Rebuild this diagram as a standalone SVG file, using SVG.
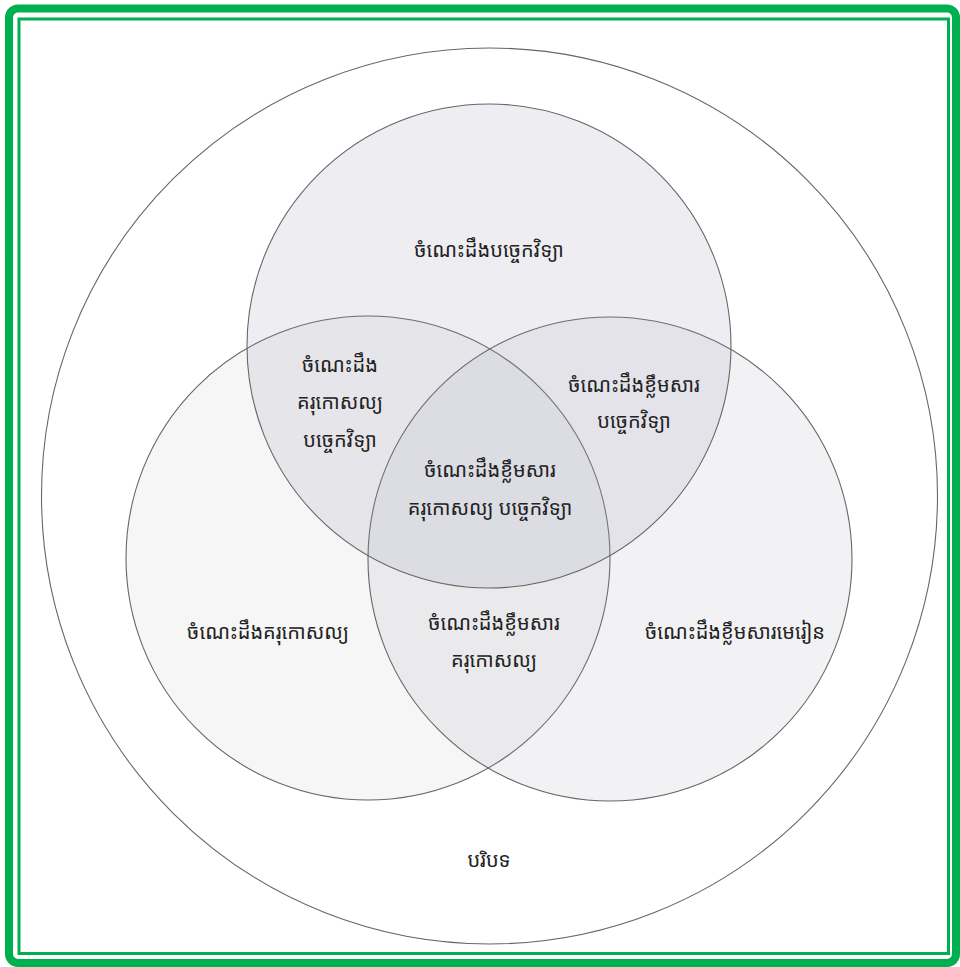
<svg xmlns="http://www.w3.org/2000/svg" width="960" height="967" viewBox="0 0 960 967">
<style>
.c{stroke:#666;stroke-width:1.1}
.t{font-family:"Noto Sans Khmer","Khmer OS","Noto Sans",sans-serif;font-size:20px;fill:#222;text-anchor:middle}
</style>
<rect width="960" height="967" fill="#fff"/>
<rect x="9" y="8.5" width="947" height="954.5" rx="9" fill="none" stroke="#00b050" stroke-width="8"/>
<rect x="19" y="19" width="929.5" height="934.5" fill="none" stroke="#00b050" stroke-width="3"/>
<g id="context"><circle cx="489.5" cy="496" r="448" fill="#fff" class="c"/></g>
<g id="pedagogy"><circle cx="368" cy="558" r="242" fill="#a0a0a0" fill-opacity="0.09" class="c"/></g>
<g id="content"><circle cx="610" cy="559" r="242" fill="#9a9ab0" fill-opacity="0.13" class="c"/></g>
<g id="technology"><circle cx="489" cy="346" r="242" fill="#9a9ab0" fill-opacity="0.17" class="c"/></g>
<g id="labels">
<text class="t" x="489" y="257">ចំណេះដឹងបច្ចេកវិទ្យា</text>
<text class="t" x="340" y="372">ចំណេះដឹង</text>
<text class="t" x="340" y="409">គរុកោសល្យ</text>
<text class="t" x="340" y="447">បច្ចេកវិទ្យា</text>
<text class="t" x="634" y="392">ចំណេះដឹងខ្លឹមសារ</text>
<text class="t" x="634" y="428">បច្ចេកវិទ្យា</text>
<text class="t" x="490" y="477">ចំណេះដឹងខ្លឹមសារ</text>
<text class="t" x="490" y="515">គរុកោសល្យ បច្ចេកវិទ្យា</text>
<text class="t" x="268" y="639">ចំណេះដឹងគរុកោសល្យ</text>
<text class="t" x="494" y="630">ចំណេះដឹងខ្លឹមសារ</text>
<text class="t" x="494" y="667">គរុកោសល្យ</text>
<text class="t" x="735" y="639">ចំណេះដឹងខ្លឹមសារមេរៀន</text>
<text class="t" x="489" y="867">បរិបទ</text>
</g>
</svg>
